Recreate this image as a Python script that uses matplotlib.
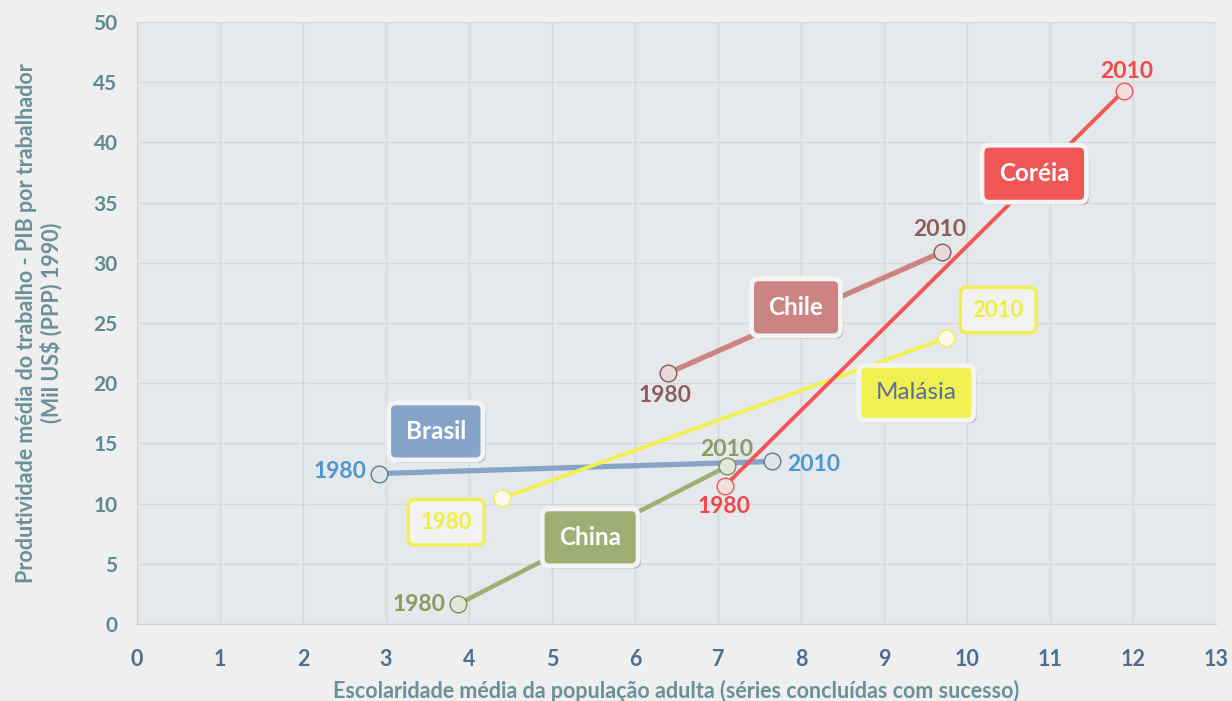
import matplotlib.pyplot as plt
import matplotlib.patheffects as pe

plt.rcParams['font.family'] = ['Lato', 'DejaVu Sans']

# dados (1980, 2010)
paises = ['Brasil', 'China', 'Chile', 'Malásia', 'Coréia']
escol_1980 = [2.92, 3.87, 6.40, 4.40, 7.08]
escol_2010 = [7.65, 7.11, 9.70, 9.75, 11.89]
prod_1980 = [12.5, 1.65, 20.85, 10.45, 11.45]
prod_2010 = [13.5, 13.1, 30.9, 23.75, 44.3]
anos = ['1980', '2010']

cores_linha = ['#86A3C8', '#9EAF74', '#CC8482', '#F0F050', '#F05656']
cores_marc = ['#DCE6EC', '#E2E8D8', '#E8D8DA', '#FAFAF0', '#F2DEDA']
cores_borda = ['#5A7F90', '#7F8F5A', '#8A5A5A', '#F0F050', '#F05656']
cores_ano = ['#4A98D0', '#8A9A62', '#8B5E5E', '#EEEE44', '#F04848']
largura = [3.8, 3.2, 3.8, 2.8, 2.8]

# posicoes dos rotulos (deslocamento em pixels a partir do ponto)
off_1980 = [(-13, 2), (-13, 0), (-3, -23), (-56, -24), (-1, -20)]
off_2010 = [(15, -3), (0, 17), (-2, 22), (52, 28), (3, 19)]
ha_1980 = ['right', 'right', 'center', 'center', 'center']
ha_2010 = ['left', 'center', 'center', 'center', 'center']
# caixas com nome do pais (coordenadas dos dados)
caixa_xy = [(3.60, 16.0), (5.46, 7.2), (7.94, 26.3), (9.39, 19.2), (10.81, 37.4)]

fig = plt.figure(figsize=(12.32, 7.01), dpi=100)
fig.patch.set_facecolor('#EFEFEF')
ax = fig.add_axes([0.1112, 0.1098, 0.8758, 0.8588])
ax.set_facecolor('#E6E9EC')

for i in range(len(paises)):
    ax.plot([escol_1980[i], escol_2010[i]], [prod_1980[i], prod_2010[i]],
            color=cores_linha[i], lw=largura[i], marker='o', ms=12,
            mfc=cores_marc[i], mec=cores_borda[i], mew=1.0, zorder=3,
            solid_capstyle='butt')

for i in range(len(paises)):
    for j, (xx, yy, off, ha) in enumerate([(escol_1980[i], prod_1980[i], off_1980[i], ha_1980[i]),
                                            (escol_2010[i], prod_2010[i], off_2010[i], ha_2010[i])]):
        if paises[i] == 'Malásia':
            ax.annotate(anos[j], (xx, yy), xytext=off, textcoords='offset pixels',
                        ha=ha, va='center', fontsize=16, fontweight='bold',
                        color=cores_ano[i], zorder=5,
                        bbox=dict(boxstyle='round,pad=0.55,rounding_size=0.3',
                                  fc='#F2F2F2', ec='#F0F050', lw=2.4))
        else:
            ax.annotate(anos[j], (xx, yy), xytext=off, textcoords='offset pixels',
                        ha=ha, va='center', fontsize=16.5, fontweight='bold',
                        color=cores_ano[i], zorder=5)

for i in range(len(paises)):
    if paises[i] == 'Malásia':
        cor_txt, peso = '#5A6E9E', 'normal'
    else:
        cor_txt, peso = 'white', 'bold'
    t = ax.text(caixa_xy[i][0], caixa_xy[i][1], paises[i], ha='center', va='center',
                fontsize=17.5, fontweight=peso, color=cor_txt, zorder=6,
                bbox=dict(boxstyle='round,pad=0.7,rounding_size=0.3',
                          fc=cores_linha[i], ec='#F4F4F4', lw=3.5))
    t.get_bbox_patch().set_path_effects([pe.SimplePatchShadow(offset=(2, -2), alpha=0.25), pe.Normal()])

ax.set_xlim(0, 13)
ax.set_ylim(0, 50)
ax.set_xticks(range(0, 14))
ax.set_yticks(range(0, 51, 5))
ax.grid(color='#D6D8DA', lw=1.0)
ax.set_axisbelow(True)
for s in ['top', 'right']:
    ax.spines[s].set_visible(False)
ax.spines['left'].set_color('#CFCFCF')
ax.spines['bottom'].set_color('#CFCFCF')
ax.tick_params(length=0)
ax.tick_params(axis='x', pad=18, labelsize=15.5, labelcolor='#4E6E8E')
ax.tick_params(axis='y', pad=14, labelsize=15, labelcolor='#5E8A96')
for lb in ax.get_xticklabels() + ax.get_yticklabels():
    lb.set_fontweight('bold')

ax.set_xlabel('Escolaridade média da população adulta (séries concluídas com sucesso)',
              fontsize=15.5, fontweight='bold', color='#6A9099', labelpad=7)
ax.set_ylabel('Produtividade média do trabalho - PIB por trabalhador\n(Mil US$ (PPP) 1990)',
              fontsize=15.5, fontweight='bold', color='#6A9099', labelpad=22, linespacing=1.15)

plt.savefig('out.png', dpi=100, facecolor=fig.get_facecolor())
